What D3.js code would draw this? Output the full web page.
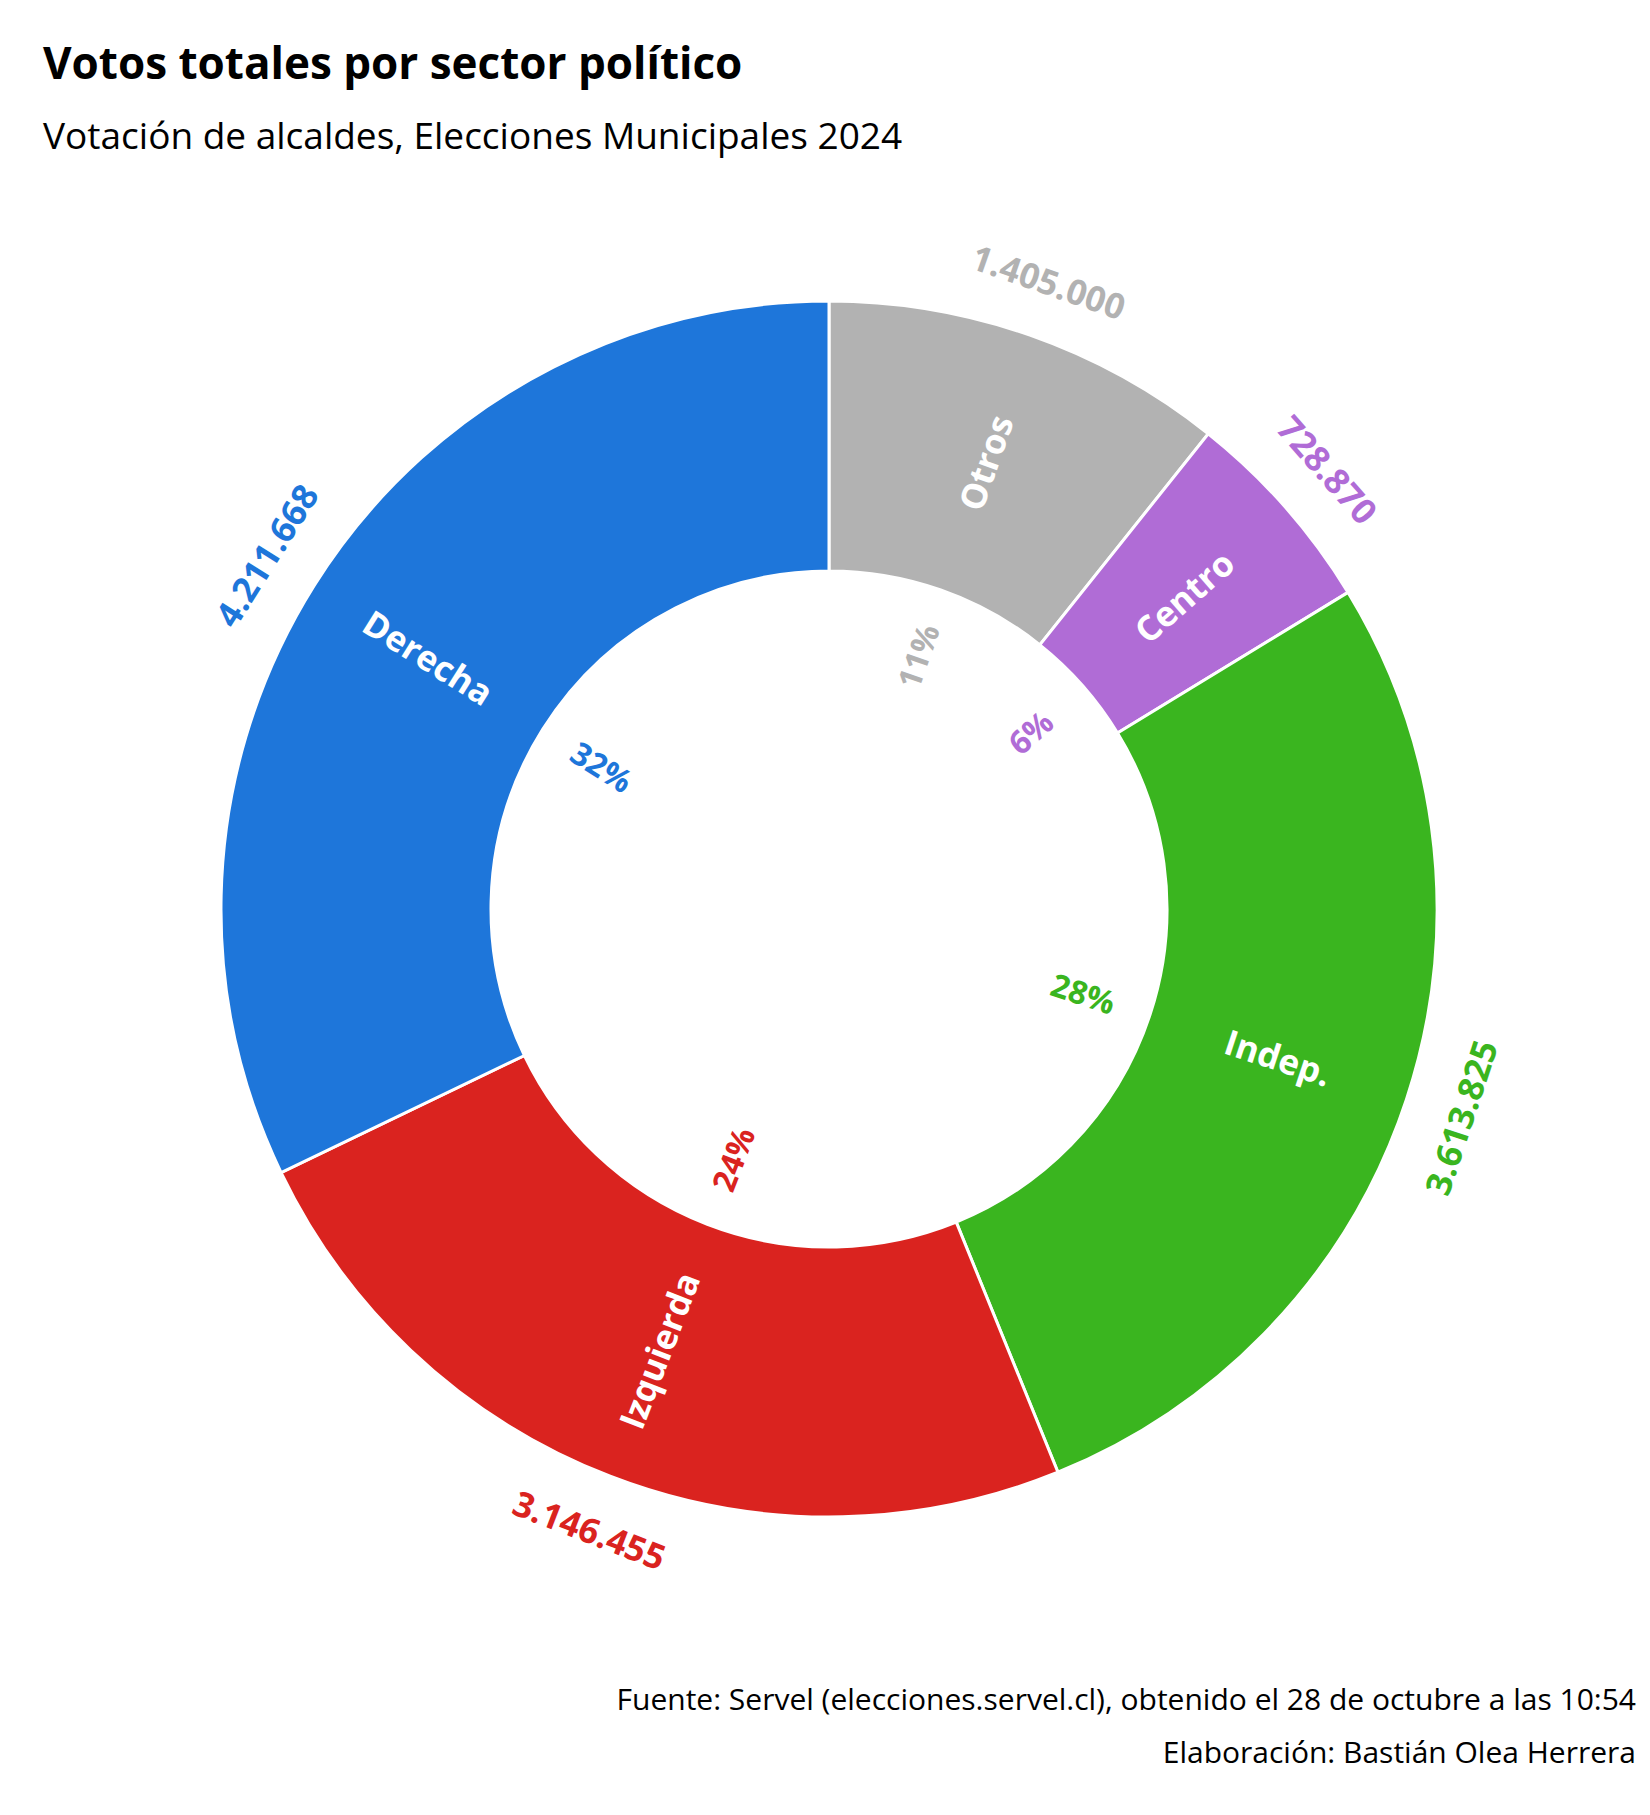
<!DOCTYPE html>
<html><head><meta charset="utf-8">
<script src="https://cdn.jsdelivr.net/npm/d3@7"></script>
<style>body{margin:0;background:#fff}text{font-family:"Open Sans",sans-serif}</style>
</head><body><div id="chart"></div>
<script>
const sectors = ["Otros", "Centro", "Indep.", "Izquierda", "Derecha"];
const votes = [1405000, 728870, 3613825, 3146455, 4211668];
const colors = ["#b2b2b2", "#b06cd6", "#3ab51f", "#da231f", "#1e76da"];

const w = 1650, h = 1815;
const cx = 829, cy = 909, rOuter = 608, rInner = 338;
const total = d3.sum(votes);
const data = sectors.map((s, i) => ({sector: s, votes: votes[i], color: colors[i]}));

const svg = d3.select("#chart").append("svg").attr("width", w).attr("height", h);

svg.append("text").attr("x", 43).attr("y", 79).attr("font-size", 44).attr("font-weight", 700)
    .text("Votos totales por sector político");
svg.append("text").attr("x", 43).attr("y", 149).attr("font-size", 37)
    .text("Votación de alcaldes, Elecciones Municipales 2024");
svg.append("text").attr("x", 1636).attr("y", 1710).attr("font-size", 30).attr("text-anchor", "end")
    .text("Fuente: Servel (elecciones.servel.cl), obtenido el 28 de octubre a las 10:54");
svg.append("text").attr("x", 1636).attr("y", 1763).attr("font-size", 30).attr("text-anchor", "end")
    .text("Elaboración: Bastián Olea Herrera");

const pie = d3.pie().value(d => d.votes).sort(null);
const arcs = pie(data);
const arc = d3.arc().innerRadius(rInner).outerRadius(rOuter);
const g = svg.append("g").attr("transform", `translate(${cx},${cy})`);

g.selectAll("path").data(arcs).enter().append("path")
    .attr("d", arc).attr("fill", d => d.data.color)
    .attr("stroke", "#fff").attr("stroke-width", 3);

const deg = d => (d.startAngle + d.endAngle) / 2 * 180 / Math.PI;
const flip = r => { r = ((r % 360) + 360) % 360; return (r > 90 && r < 270) ? r - 180 : r; };
const pos = (d, r) => { const a = (d.startAngle + d.endAngle) / 2; return [r * Math.sin(a), -r * Math.cos(a)]; };
const fmt = v => d3.format(",")(v).replace(/,/g, ".");

function labels(r, size, fill, text, rot) {
    g.selectAll(null).data(arcs).enter().append("text")
        .attr("transform", d => { const [x, y] = pos(d, r); return `translate(${x},${y}) rotate(${flip(rot(d))})`; })
        .attr("text-anchor", "middle").attr("dominant-baseline", "central")
        .attr("font-size", size).attr("font-weight", 700)
        .attr("fill", fill).text(text);
}
labels((rInner + rOuter) / 2, 35, "#fff", d => d.data.sector, d => deg(d) - 90);
labels(268, 32, d => d.data.color, d => Math.round(d.data.votes / total * 100) + "%", d => deg(d) - 90);
labels(665, 35, d => d.data.color, d => fmt(d.data.votes), d => deg(d));
</script></body></html>
